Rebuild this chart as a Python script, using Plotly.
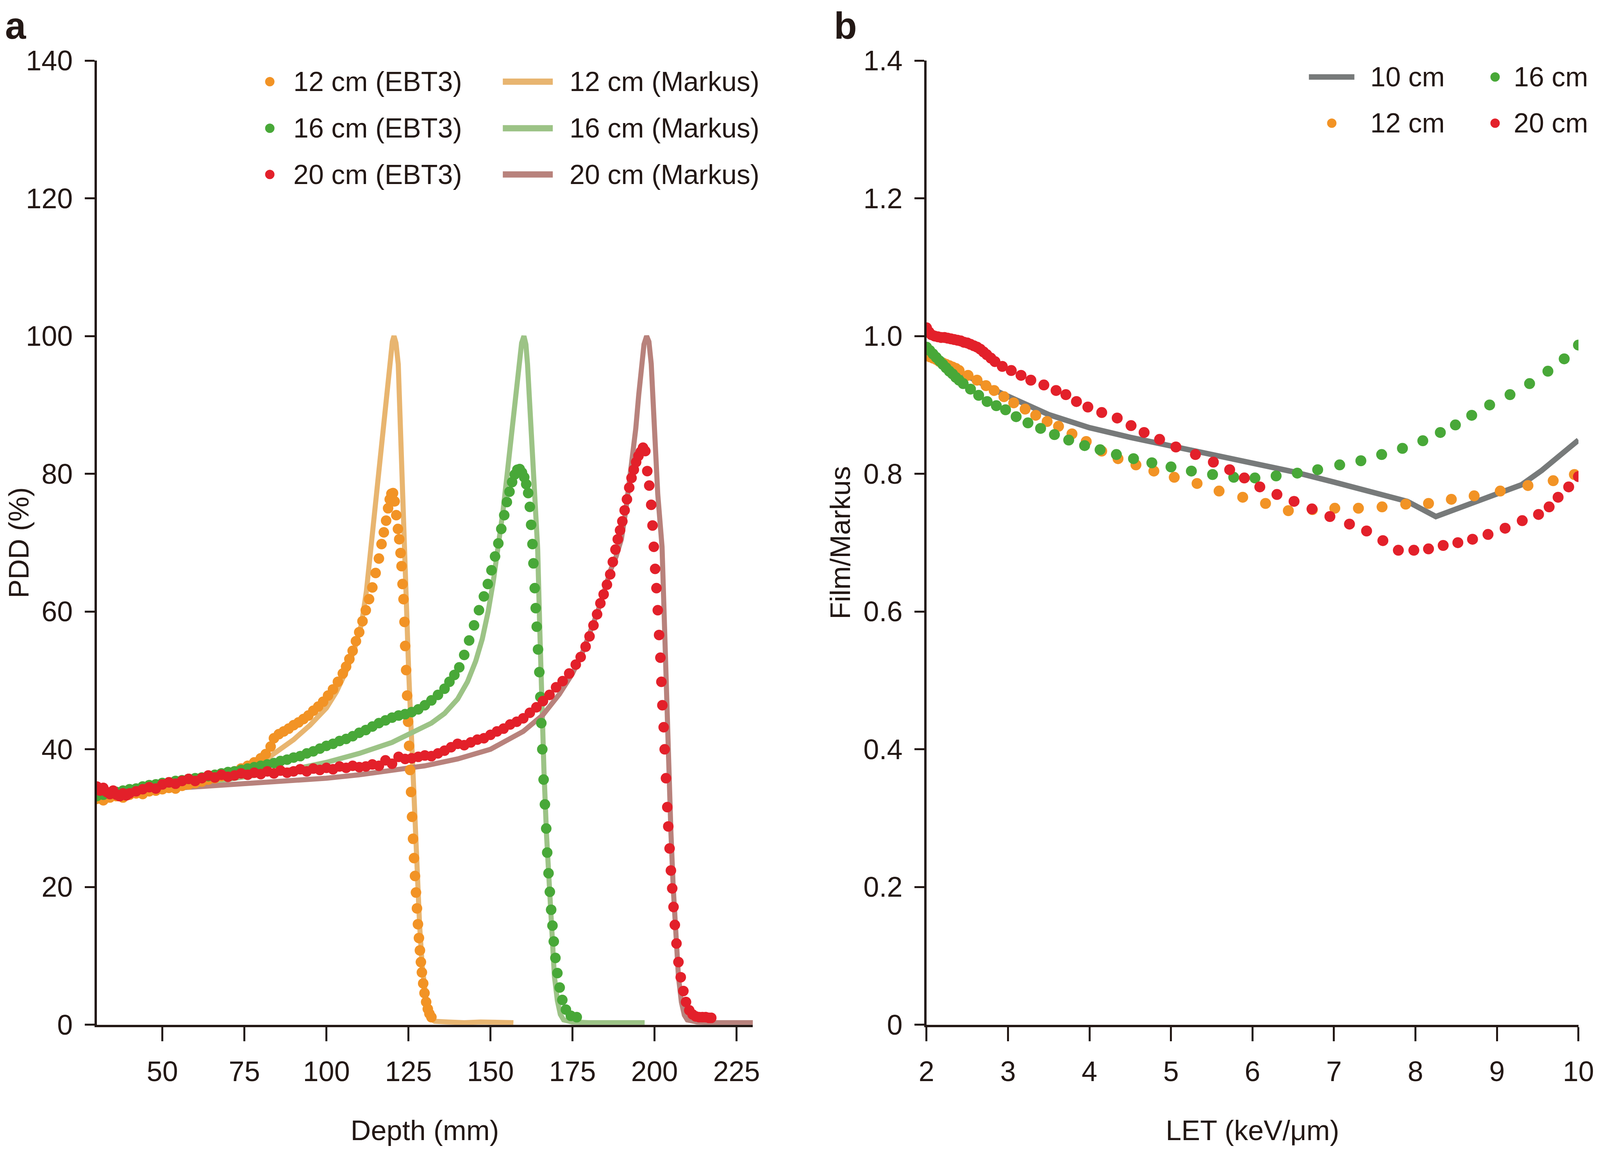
import plotly.graph_objects as go

# reference frame (positions are given as fractions of this frame)
W, H = 6060, 2951
INK = '#231815'
FONT = 'Arial, "Liberation Sans", Helvetica, sans-serif'
FS = 72          # tick / title font size
FS_LEG = 70      # legend font size

C_ORANGE = '#F29325'
C_GREEN = '#48A838'
C_RED = '#E3202A'
C_TAN = '#E8B570'
C_LGREEN = '#9CC386'
C_BROWN = '#B8827C'
C_GRAY = '#777A7A'

# ---------------- panel a : PDD vs depth ----------------
ebt12_x = [30, 32, 34, 36, 38, 40, 42, 44, 46, 48, 50, 52, 54, 56, 58, 60, 62, 64, 66, 68, 70, 72, 74, 76, 78, 80,
           81.5, 83, 84, 85.5, 87, 88.5, 90, 91.5, 93, 94.5, 96, 97.5, 99, 100.5, 102, 103.5, 105, 106, 107, 108,
           109, 110, 111, 112, 113, 114, 115, 116, 116.8, 117.5, 118.2, 118.8, 119.3, 119.8, 120.3, 120.8, 121.3,
           121.8, 122.2, 122.6, 122.9, 123.2, 123.5, 123.8, 124.0, 124.3, 124.6, 124.9, 125.2, 125.5, 125.8, 126.1,
           126.4, 126.7, 127.0, 127.3, 127.6, 127.9, 128.2, 128.5, 128.8, 129.1, 129.5, 129.9, 130.4, 130.9, 131.4,
           132.0]
ebt12_y = [32.8, 32.6, 33.0, 33.2, 33.0, 33.4, 33.6, 33.5, 33.9, 34.0, 34.2, 34.4, 34.3, 34.7, 34.9, 35.1, 35.3,
           35.6, 35.8, 36.1, 36.4, 36.8, 37.2, 37.6, 38.1, 38.7, 39.3, 40.4, 41.6, 42.2, 42.6, 43.0, 43.5, 43.9, 44.4,
           44.9, 45.6, 46.2, 46.9, 47.8, 48.7, 49.8, 51.0, 52.0, 53.1, 54.3, 55.7, 57.0, 58.6, 60.2, 61.8, 63.5, 65.6,
           67.7, 69.8, 71.5, 73.2, 75.0, 76.3, 77.1, 77.2, 76.0, 74.0, 72.0, 70.5, 68.5, 66.6, 64.0, 61.8, 58.5, 55.0,
           51.5, 47.8, 44.0, 40.5, 37.0, 33.8, 30.2, 27.0, 24.2, 21.6, 19.2, 16.9, 14.6, 12.6, 10.8, 9.1, 7.6, 6.0,
           4.6, 3.3, 2.3, 1.6, 1.1]

ebt16_x = [30, 32, 34, 36, 38, 40, 42, 44, 46, 48, 50, 52, 54, 56, 58, 60, 62, 64, 66, 68, 70, 72, 74, 76, 78, 80,
           82, 84, 86, 88, 90, 92, 94, 96, 98, 100, 102, 104, 106, 108, 110, 112, 114, 116, 118, 120, 122, 124, 126,
           128, 130, 132, 134, 136, 137.5, 139, 140.5, 142, 143.5, 145, 146.5, 148, 149.2, 150.3, 151.4, 152.4,
           153.3, 154.2, 155.0, 155.8, 156.6, 157.4, 158.2, 158.9, 159.6, 160.3, 160.9, 161.5, 162.0, 162.4, 162.8,
           163.1, 163.5, 163.8, 164.1, 164.5, 164.9, 165.2, 165.5, 165.8, 166.2, 166.6, 167.0, 167.3, 167.7, 168.1,
           168.5, 168.9, 169.3, 169.8, 170.4, 171.1, 171.9, 173.0, 174.5, 176.3]
ebt16_y = [33.2, 33.4, 33.5, 33.8, 34.0, 34.2, 34.3, 34.6, 34.8, 34.9, 35.1, 35.2, 35.4, 35.5, 35.7, 35.8, 35.9,
           36.1, 36.3, 36.5, 36.7, 36.8, 37.0, 37.2, 37.4, 37.6, 37.8, 38.0, 38.3, 38.5, 38.8, 39.0, 39.4, 39.7, 40.1,
           40.5, 40.8, 41.2, 41.5, 41.9, 42.4, 42.8, 43.3, 43.8, 44.2, 44.6, 44.9, 45.1, 45.4, 45.8, 46.4, 47.1, 47.9,
           48.8, 49.8, 50.8, 51.9, 53.7, 55.8, 58.0, 60.2, 62.2, 64.0, 66.0, 68.0, 69.9, 72.0, 74.0, 75.9, 77.4, 78.8,
           79.9, 80.6, 80.7, 80.2, 79.5, 78.5, 77.2, 75.2, 72.6, 69.8, 67.0, 63.4, 60.5, 57.8, 54.5, 51.2, 47.6, 43.8,
           40.0, 35.6, 32.0, 28.5, 25.0, 22.0, 19.3, 16.7, 14.4, 12.1, 9.7, 7.5, 5.4, 3.6, 2.2, 1.3, 1.1]

ebt20_x = [30, 31, 32, 33, 34, 35, 36, 37, 38, 39, 40, 42, 44, 46, 48, 50, 52, 54, 56, 58, 60, 62, 64, 66, 68, 70,
           72, 74, 76, 78, 80, 82, 84, 86, 88, 90, 92, 94, 96, 98, 100, 102, 104, 106, 108, 110, 112, 114, 116, 118,
           120, 122, 124, 126, 128, 130, 132, 134, 136, 138, 140, 142, 144, 146, 148, 150, 152, 154, 156, 158, 160,
           162, 164, 166, 168, 170, 172, 174, 176, 177.5, 179, 180.2, 181.4, 182.5, 183.5, 184.5, 185.5, 186.5,
           187.3, 188.1, 188.8, 189.5, 190.2, 190.9, 191.6, 192.3, 193.0, 193.7, 194.4, 195.1, 195.8, 196.5, 197.2,
           197.8, 198.4, 199.0, 199.4, 199.8, 200.2, 200.6, 201.0, 201.4, 201.8, 202.1, 202.4, 202.8, 203.1, 203.5,
           203.9, 204.2, 204.6, 205.0, 205.4, 205.8, 206.2, 206.7, 207.3, 208.0, 208.8, 209.6, 210.6, 211.6, 212.6,
           213.6, 214.6, 215.6, 216.6, 217.3]
ebt20_y = [34.6, 34.0, 34.4, 33.8, 33.5, 34.0, 33.4, 33.2, 33.6, 33.3, 33.6, 33.9, 34.2, 34.5, 34.3, 34.9, 35.2,
           35.0, 35.4, 35.7, 35.4, 35.8, 36.2, 35.9, 36.3, 36.0, 36.2, 36.5, 36.3, 36.6, 36.4, 36.8, 36.5, 36.9, 36.6,
           36.8, 37.1, 36.8, 37.2, 37.0, 37.3, 37.1, 37.5, 37.3, 37.6, 37.4, 37.5, 37.8, 37.6, 38.4, 37.9, 38.9, 38.6,
           38.7, 38.9, 39.1, 39.0, 39.4, 39.8, 40.3, 40.8, 40.6, 41.0, 41.4, 41.6, 42.1, 42.6, 43.0, 43.6, 44.0, 44.5,
           45.3, 46.1, 47.0, 47.9, 49.0, 49.9, 51.0, 52.3, 53.4, 54.9, 56.4, 58.0, 59.6, 61.2, 62.5, 63.9, 65.4, 67.2,
           69.0, 70.5, 71.8, 73.1, 74.7, 76.3, 78.0, 79.4, 80.6, 81.7, 82.6, 83.2, 83.8, 83.3, 80.4, 78.3, 75.5, 72.5,
           69.4, 66.2, 63.4, 60.2, 56.6, 53.3, 49.8, 46.4, 43.2, 40.0, 35.8, 31.6, 28.8, 25.6, 22.4, 19.8, 17.1, 14.5,
           11.8, 9.1, 6.9, 4.9, 3.3, 2.1, 1.5, 1.2, 1.1, 1.1, 1.1, 1.0, 1.0]

mk12_x = [30, 40, 50, 60, 70, 75, 80, 85, 90, 95, 100, 103, 106, 108.5, 110.7, 112.2, 113.5, 114.9, 116.2, 117.4,
          118.4, 119.3, 120.1, 120.6, 121.2, 121.9, 122.5, 123.0, 123.6, 124.3, 125.1, 126.0, 126.8, 127.6, 128.4,
          129.2, 130.0, 130.8, 131.6, 133, 137, 142, 147, 152, 157]
mk12_y = [32.6, 33.4, 34.0, 34.8, 35.9, 36.8, 38.0, 39.6, 41.4, 43.5, 46.0, 48.3, 51.3, 54.5, 58.2, 63.0, 69.0, 75.0,
          81.0, 87.0, 92.0, 96.0, 99.2, 100.0, 99.0, 95.9, 87.0, 78.5, 69.4, 60.5, 51.0, 41.0, 31.5, 22.5, 14.5, 8.5,
          4.5, 2.0, 0.9, 0.5, 0.4, 0.3, 0.4, 0.3, 0.3]

mk16_x = [30, 40, 50, 60, 70, 80, 90, 100, 110, 120, 126, 132, 136, 140, 143, 145.5, 147.5, 149.3, 150.9, 152.4,
          153.8, 155.1, 156.2, 157.1, 158.0, 158.8, 159.5, 160.2, 160.8, 161.3, 161.9, 162.4, 163.0, 163.7, 164.4,
          165.0, 165.6, 166.3, 167.1, 167.9, 168.7, 169.5, 170.4, 171.3, 172.3, 175, 180, 185, 190, 197]
mk16_y = [33.0, 33.7, 34.3, 34.9, 35.6, 36.3, 37.1, 38.1, 39.4, 41.0, 42.3, 43.8, 45.2, 47.3, 49.8, 52.8, 56.0, 60.0,
          64.5, 69.4, 74.5, 80.0, 85.0, 89.0, 93.0, 96.5, 99.0, 100.0, 98.8, 95.9, 91.0, 86.6, 80.0, 74.0, 69.0, 58.0,
          47.0, 37.0, 27.5, 19.5, 12.5, 7.0, 3.5, 1.5, 0.7, 0.4, 0.3, 0.3, 0.3, 0.3]

mk20_x = [30, 40, 50, 60, 70, 80, 90, 100, 110, 120, 130, 140, 150, 160, 166, 171, 175, 178, 180.5, 182.7, 184.7,
          186.6, 188.3, 189.9, 191.2, 192.4, 193.4, 194.3, 195.2, 196.0, 196.8, 197.6, 198.3, 199.0, 199.9, 201.0,
          202.3, 203.0, 203.6, 204.3, 205.0, 205.7, 206.5, 207.3, 208.2, 209.1, 210.0, 213, 218, 224, 230]
mk20_y = [33.6, 33.9, 34.2, 34.5, 34.8, 35.1, 35.4, 35.8, 36.3, 36.9, 37.6, 38.6, 40.0, 42.6, 45.0, 48.0, 51.0, 54.0,
          57.0, 60.0, 63.0, 66.0, 68.0, 70.5, 74.5, 78.8, 82.5, 86.6, 91.5, 95.9, 98.8, 100.0, 99.2, 96.0, 86.6, 77.0,
          69.4, 58.0, 47.0, 37.0, 28.0, 20.0, 13.0, 7.0, 3.3, 1.4, 0.7, 0.4, 0.3, 0.3, 0.3]

depth_ticks = [50, 75, 100, 125, 150, 175, 200, 225]
pdd_ticks = [0, 20, 40, 60, 80, 100, 120, 140]

# ---------------- panel b : Film/Markus vs LET ----------------
let10_x = [2.0, 2.45, 2.9, 3.5, 4.0, 4.5, 5.0, 5.5, 6.0, 6.5, 7.0, 7.5, 7.9, 8.25, 8.5, 9.0, 9.3, 9.55, 9.8, 10.0]
let10_y = [0.972, 0.944, 0.918, 0.886, 0.867, 0.853, 0.841, 0.828, 0.815, 0.803, 0.788, 0.773, 0.760, 0.738, 0.749,
           0.770, 0.784, 0.805, 0.830, 0.849]

let12_x = [2.00, 2.04, 2.08, 2.12, 2.16, 2.20, 2.24, 2.28, 2.32, 2.36, 2.40, 2.51, 2.62, 2.73, 2.83, 2.95, 3.07,
           3.21, 3.34, 3.48, 3.62, 3.785, 3.96, 4.15, 4.35, 4.57, 4.79, 5.04, 5.32, 5.59, 5.88, 6.16, 6.44, 6.735,
           7.01, 7.30, 7.59, 7.88, 8.16, 8.44, 8.72, 9.04, 9.38, 9.69, 9.95]
let12_y = [0.972, 0.970, 0.968, 0.966, 0.963, 0.961, 0.959, 0.957, 0.955, 0.953, 0.950, 0.943, 0.936, 0.928, 0.921,
           0.912, 0.903, 0.894, 0.885, 0.876, 0.869, 0.858, 0.847, 0.833, 0.822, 0.813, 0.804, 0.795, 0.786, 0.775,
           0.766, 0.757, 0.7465, 0.748, 0.750, 0.750, 0.752, 0.756, 0.757, 0.763, 0.768, 0.775, 0.783, 0.790, 0.799]

let16_x = [2.00, 2.04, 2.08, 2.12, 2.16, 2.20, 2.24, 2.28, 2.32, 2.36, 2.40, 2.45, 2.54, 2.64, 2.744, 2.857, 2.97,
           3.10, 3.245, 3.40, 3.57, 3.745, 3.94, 4.13, 4.33, 4.54, 4.765, 5.0, 5.25, 5.51, 5.77, 6.03, 6.29, 6.55,
           6.80, 7.07, 7.33, 7.585, 7.84, 8.09, 8.305, 8.49, 8.69, 8.91, 9.16, 9.40, 9.625, 9.825, 10.0]
let16_y = [0.984, 0.979, 0.974, 0.969, 0.964, 0.959, 0.954, 0.949, 0.945, 0.940, 0.936, 0.931, 0.923, 0.914, 0.905,
           0.899, 0.893, 0.883, 0.874, 0.866, 0.857, 0.849, 0.841, 0.835, 0.828, 0.822, 0.816, 0.810, 0.804, 0.799,
           0.795, 0.794, 0.797, 0.801, 0.806, 0.813, 0.819, 0.828, 0.837, 0.848, 0.860, 0.871, 0.885, 0.900, 0.915,
           0.931, 0.949, 0.967, 0.987]

let20_x = [2.00, 2.03, 2.06, 2.10, 2.14, 2.18, 2.22, 2.26, 2.30, 2.34, 2.38, 2.42, 2.46, 2.50, 2.54, 2.58, 2.62,
           2.66, 2.70, 2.74, 2.79, 2.84, 2.93, 3.04, 3.16, 3.28, 3.44, 3.59, 3.71, 3.84, 3.98, 4.15, 4.34, 4.51, 4.67,
           4.86, 5.06, 5.30, 5.52, 5.72, 5.90, 6.09, 6.30, 6.51, 6.73, 6.95, 7.19, 7.40, 7.60, 7.79, 7.98, 8.16, 8.34,
           8.52, 8.70, 8.89, 9.10, 9.31, 9.51, 9.64, 9.75, 9.88, 10.0]
let20_y = [1.012, 1.006, 1.002, 1.000, 0.999, 0.998, 0.998, 0.997, 0.996, 0.995, 0.994, 0.993, 0.991, 0.990, 0.988,
           0.986, 0.984, 0.981, 0.977, 0.973, 0.968, 0.963, 0.956, 0.950, 0.943, 0.936, 0.929, 0.921, 0.915, 0.905,
           0.897, 0.889, 0.881, 0.870, 0.860, 0.850, 0.839, 0.828, 0.817, 0.806, 0.794, 0.781, 0.770, 0.760, 0.749,
           0.738, 0.727, 0.717, 0.703, 0.689, 0.689, 0.691, 0.696, 0.700, 0.705, 0.712, 0.721, 0.732, 0.741, 0.752,
           0.766, 0.781, 0.796]

let_ticks = [2, 3, 4, 5, 6, 7, 8, 9, 10]
ratio_ticks = [0, 0.2, 0.4, 0.6, 0.8, 1.0, 1.2, 1.4]
ratio_labels = ['0', '0.2', '0.4', '0.6', '0.8', '1.0', '1.2', '1.4']

legend_a_dots = [('12 cm (EBT3)', C_ORANGE), ('16 cm (EBT3)', C_GREEN), ('20 cm (EBT3)', C_RED)]
legend_a_lines = [('12 cm (Markus)', C_TAN), ('16 cm (Markus)', C_LGREEN), ('20 cm (Markus)', C_BROWN)]

# ---------------- figure ----------------
fig = go.Figure()

for xs, ys, col, nm in [(mk12_x, mk12_y, C_TAN, '12 cm (Markus)'),
                        (mk16_x, mk16_y, C_LGREEN, '16 cm (Markus)'),
                        (mk20_x, mk20_y, C_BROWN, '20 cm (Markus)')]:
    fig.add_trace(go.Scatter(x=xs, y=ys, mode='lines', name=nm, line=dict(color=col, width=13),
                             xaxis='x', yaxis='y', showlegend=False, hoverinfo='skip'))
for xs, ys, col, nm in [(ebt12_x, ebt12_y, C_ORANGE, '12 cm (EBT3)'),
                        (ebt16_x, ebt16_y, C_GREEN, '16 cm (EBT3)'),
                        (ebt20_x, ebt20_y, C_RED, '20 cm (EBT3)')]:
    fig.add_trace(go.Scatter(x=xs, y=ys, mode='markers', name=nm,
                             marker=dict(color=col, size=27, line=dict(width=0)),
                             xaxis='x', yaxis='y', showlegend=False))

fig.add_trace(go.Scatter(x=let10_x, y=let10_y, mode='lines', name='10 cm', line=dict(color=C_GRAY, width=14),
                         xaxis='x2', yaxis='y2', showlegend=False))
for xs, ys, col, nm in [(let12_x, let12_y, C_ORANGE, '12 cm'),
                        (let16_x, let16_y, C_GREEN, '16 cm'),
                        (let20_x, let20_y, C_RED, '20 cm')]:
    fig.add_trace(go.Scatter(x=xs, y=ys, mode='markers', name=nm,
                             marker=dict(color=col, size=28, line=dict(width=0)),
                             xaxis='x2', yaxis='y2', showlegend=False))


def px(v):
    return v / W


def py(v):
    return 1 - v / H


base = dict(showline=True, linecolor=INK, linewidth=6, ticks='outside', tickwidth=5,
            tickcolor=INK, showgrid=False, zeroline=False, tickfont=dict(family=FONT, size=FS, color=INK))
xcommon = dict(base, ticklen=36, ticklabelstandoff=16, ticklabeloverflow='allow')
ycommon = dict(base, ticklen=25, ticklabelstandoff=16)
tfont = dict(family=FONT, size=FS, color=INK)

fig.update_layout(
    autosize=True, margin=dict(l=0, r=0, t=0, b=0, autoexpand=False),
    paper_bgcolor='white', plot_bgcolor='white', showlegend=False,
    font=dict(family=FONT, size=FS, color=INK),
    xaxis=dict(domain=[px(356), px(2851)], range=[30, 230], tickmode='array', tickvals=depth_ticks,
               anchor='y', title=dict(text='Depth (mm)', font=tfont, standoff=88), **xcommon),
    yaxis=dict(domain=[py(2629), py(148)], range=[0, 140], tickmode='array', tickvals=pdd_ticks,
               anchor='x', title=dict(text='PDD (%)', font=tfont, standoff=24), **ycommon),
    xaxis2=dict(domain=[px(3511), px(5990)], range=[2, 10], tickmode='array', tickvals=let_ticks,
                anchor='y2', title=dict(text='LET (keV/μm)', font=tfont, standoff=88), **xcommon),
    yaxis2=dict(domain=[py(2629), py(148)], range=[0, 1.4], tickmode='array', tickvals=ratio_ticks,
                ticktext=ratio_labels, anchor='x2',
                title=dict(text='Film/Markus', font=tfont, standoff=12), **ycommon),
)

shapes = []
annotations = []

# panel labels
annotations.append(dict(text='<b>a</b>', x=px(4), y=py(2), xref='paper', yref='paper', xanchor='left',
                        yanchor='top', showarrow=False, font=dict(family=FONT, size=96, color=INK)))
annotations.append(dict(text='<b>b</b>', x=px(3156), y=py(2), xref='paper', yref='paper', xanchor='left',
                        yanchor='top', showarrow=False, font=dict(family=FONT, size=96, color=INK)))


def legend_text(txt, xpos, yc, anchor='left'):
    annotations.append(dict(text=txt, x=px(xpos), y=py(yc), xref='paper', yref='paper', xanchor=anchor,
                            yanchor='middle', showarrow=False, font=dict(family=FONT, size=FS_LEG, color=INK)))


def legend_dot(cx, cy, col, d=24):
    shapes.append(dict(type='circle', xref='paper', yref='paper', xsizemode='pixel', ysizemode='pixel',
                       xanchor=px(cx), yanchor=py(cy), x0=-d / 2, x1=d / 2, y0=-d / 2, y1=d / 2,
                       fillcolor=col, line=dict(width=0)))


def legend_line(x0, x1, cy, col, w=16):
    shapes.append(dict(type='line', xref='paper', yref='paper', x0=px(x0), x1=px(x1), y0=py(cy), y1=py(cy),
                       line=dict(color=col, width=w)))


rows_a = [202, 322, 441]
for (txt, col), yc in zip(legend_a_dots, rows_a):
    legend_dot(1014, yc, col)
    legend_text(txt, 1100, yc)
for (txt, col), yc in zip(legend_a_lines, rows_a):
    legend_line(1900, 2090, yc, col)
    legend_text(txt, 2150, yc)

rows_b = [190, 309]
legend_line(4965, 5138, rows_b[0], C_GRAY, 14)
legend_text('10 cm', 5195, rows_b[0])
legend_dot(5052, rows_b[1], C_ORANGE)
legend_text('12 cm', 5195, rows_b[1])
legend_dot(5673, rows_b[0], C_GREEN)
legend_text('16 cm', 5740, rows_b[0])
legend_dot(5673, rows_b[1], C_RED)
legend_text('20 cm', 5740, rows_b[1])

fig.update_layout(shapes=shapes, annotations=annotations)

fig.write_html('out.html')
